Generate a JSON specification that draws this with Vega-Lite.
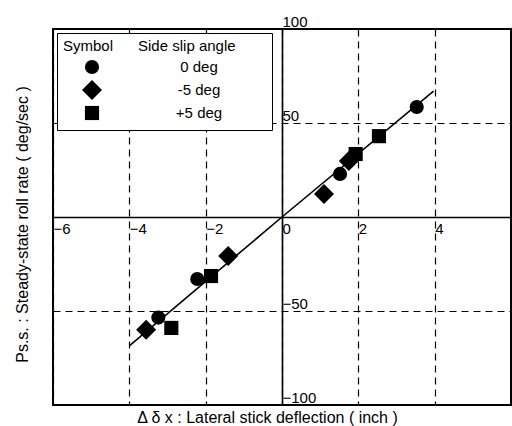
{
  "$schema": "https://vega.github.io/schema/vega-lite/v6.json",
  "width": 458,
  "height": 376,
  "autosize": {"type": "none"},
  "padding": {"left": 53, "top": 29, "right": 1, "bottom": 21},
  "background": "white",
  "config": {
    "font": "Liberation Sans",
    "view": {"stroke": "black", "strokeWidth": 2}
  },
  "datasets": {
    "points": [
      {"dx": 3.53, "roll": 58.5, "angle": "0 deg"},
      {"dx": 1.52, "roll": 22.9, "angle": "0 deg"},
      {"dx": -2.22, "roll": -33, "angle": "0 deg"},
      {"dx": -3.24, "roll": -53.5, "angle": "0 deg"},
      {"dx": 1.1, "roll": 12.2, "angle": "-5 deg"},
      {"dx": 1.75, "roll": 29.8, "angle": "-5 deg"},
      {"dx": -1.41, "roll": -20.7, "angle": "-5 deg"},
      {"dx": -3.56, "roll": -60, "angle": "-5 deg"},
      {"dx": 2.54, "roll": 43, "angle": "+5 deg"},
      {"dx": 1.93, "roll": 33.5, "angle": "+5 deg"},
      {"dx": -1.86, "roll": -31.4, "angle": "+5 deg"},
      {"dx": -2.9, "roll": -59, "angle": "+5 deg"}
    ],
    "fit": [
      {"dx": -4.0, "roll": -68.5},
      {"dx": 0, "roll": 0},
      {"dx": 3.97, "roll": 67}
    ]
  },
  "layer": [
    {
      "data": {"name": "fit"},
      "mark": {"type": "line", "color": "black", "strokeWidth": 1.6},
      "encoding": {
        "x": {
          "field": "dx", "type": "quantitative",
          "scale": {"domain": [-6, 6], "nice": false, "zero": false},
          "axis": {
            "values": [-6, -4, -2, 0, 2, 4],
            "offset": -188,
            "ticks": false,
            "domainColor": "black",
            "domainWidth": 1.6,
            "grid": true,
            "gridColor": "black",
            "gridDash": [7, 5],
            "gridWidth": 1.2,
            "gridOpacity": 1,
            "labelAlign": "left",
            "labelBaseline": "top",
            "labelDx": 2,
            "labelPadding": 4,
            "labelFontSize": 15,
            "labelColor": "black",
            "labelFlush": false,
            "labelOverlap": false,
            "title": "Δ δ x : Lateral stick deflection ( inch )",
            "titleFontSize": 16,
            "titleFontWeight": "normal",
            "titleColor": "black",
            "titleX": 214,
            "titleY": 200,
            "titleBaseline": "middle",
            "titleAlign": "center"
          }
        },
        "y": {
          "field": "roll", "type": "quantitative",
          "scale": {"domain": [-100, 100], "nice": false, "zero": false},
          "axis": {
            "values": [-100, -50, 50, 100],
            "offset": -229,
            "ticks": false,
            "domainColor": "black",
            "domainWidth": 1.6,
            "grid": true,
            "gridColor": "black",
            "gridDash": [7, 5],
            "gridWidth": 1.2,
            "gridOpacity": 1,
            "labelAlign": "left",
            "labelBaseline": "bottom",
            "labelPadding": 0,
            "labelDx": 3,
            "labelDy": -2,
            "labelFontSize": 15,
            "labelColor": "black",
            "labelFlush": false,
            "labelOverlap": false,
            "title": "Ps.s. : Steady-state roll rate ( deg/sec )",
            "titleFontSize": 16,
            "titleFontWeight": "normal",
            "titleColor": "black",
            "titleX": -260,
            "titleY": 195,
            "titleAngle": -90,
            "titleBaseline": "middle",
            "titleAlign": "center"
          }
        }
      }
    },
    {
      "data": {"name": "points"},
      "mark": {"type": "point", "filled": true, "color": "black", "opacity": 1},
      "encoding": {
        "x": {"field": "dx", "type": "quantitative"},
        "y": {"field": "roll", "type": "quantitative"},
        "shape": {
          "field": "angle", "type": "nominal",
          "scale": {"domain": ["0 deg", "-5 deg", "+5 deg"], "range": ["circle", "diamond", "square"]},
          "legend": {
            "orient": "top-left",
            "offset": 4,
            "title": "Symbol\u00a0\u00a0\u00a0\u00a0\u00a0\u00a0Side slip angle\u00a0\u00a0\u2800\u2800",
            "titleLimit": 400,
            "titleFontSize": 15,
            "titleFontWeight": "normal",
            "titleColor": "black",
            "titlePadding": 5,
            "labelFontSize": 15,
            "labelColor": "black",
            "labelAlign": "center",
            "labelOffset": 96,
            "symbolOffset": 18,
            "symbolFillColor": "black",
            "symbolStrokeColor": "black",
            "rowPadding": -1,
            "padding": 6,
            "fillColor": "white",
            "strokeColor": "black"
          }
        },
        "size": {
          "field": "angle", "type": "nominal",
          "scale": {"type": "ordinal", "domain": ["0 deg", "-5 deg", "+5 deg"], "range": [200, 400, 200]}
        }
      }
    }
  ]
}
